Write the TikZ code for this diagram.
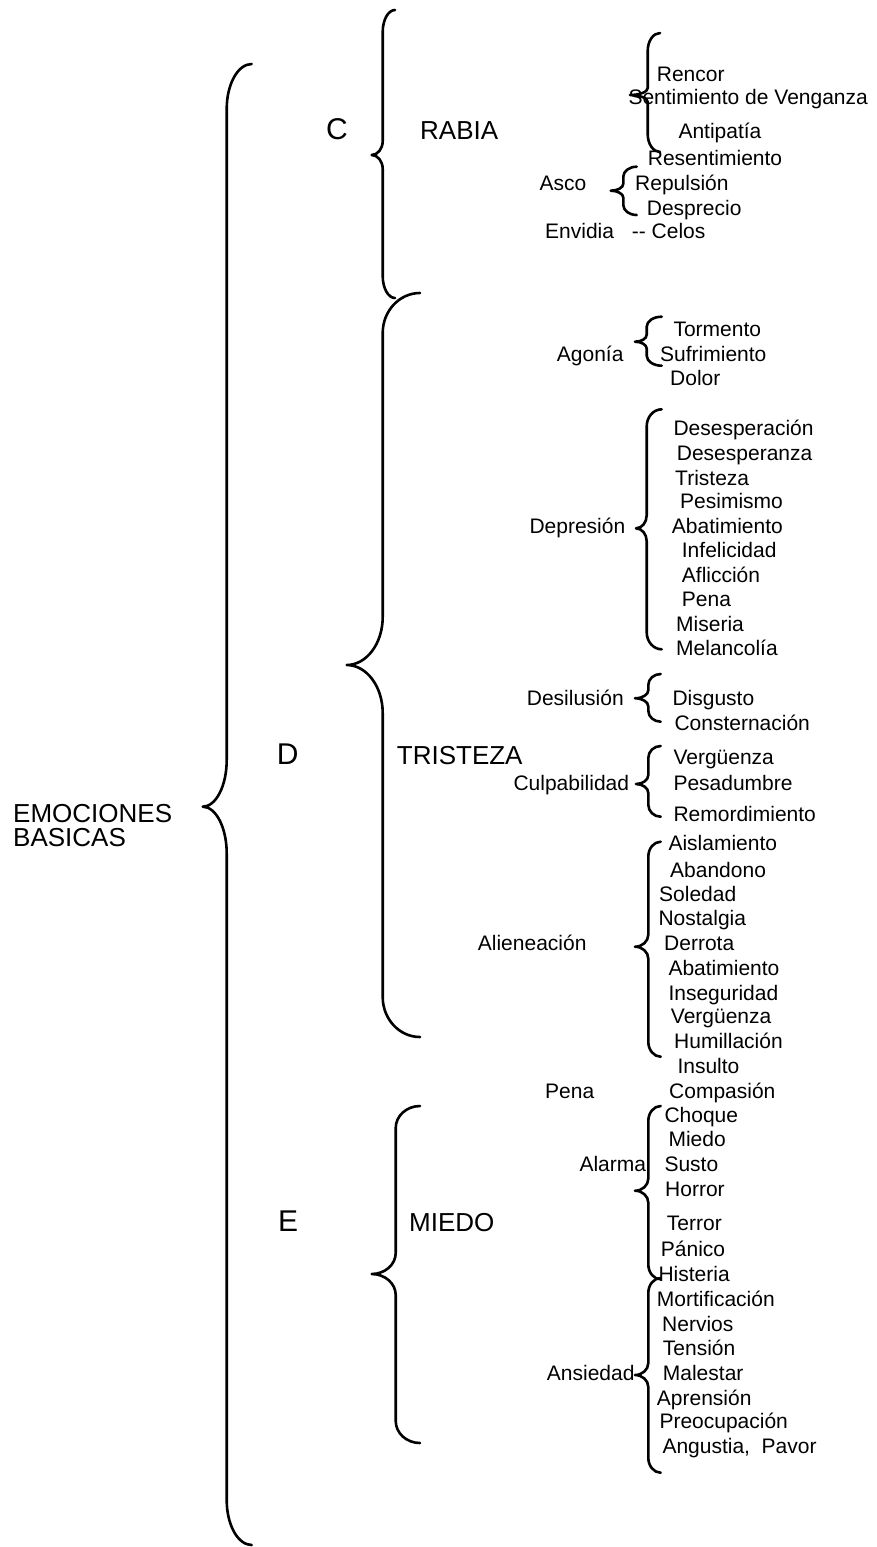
\documentclass[tikz,border=0pt]{standalone}
\usepackage{fontspec}
\setmainfont{Liberation Sans}
\tikzset{
  sm/.style={font=\fontsize{21}{24}\selectfont, anchor=base west, inner sep=0pt},
  md/.style={font=\fontsize{26}{28}\selectfont, anchor=base west, inner sep=0pt},
  lg/.style={font=\fontsize{30}{32}\selectfont, anchor=base west, inner sep=0pt},
  br/.style={line width=2.6pt, line cap=round, line join=round}
}
% xl xe xc yt h yc hc yb
\newcommand\drawbrace[8]{%
  \draw[br] (#2,#4) .. controls ({#2-0.552*(#2-#1)},#4) and (#1,{#4+#5-0.552*#5}) .. (#1,{#4+#5})
   -- (#1,{#6-#7}) .. controls (#1,{#6-#7+0.552*#7}) and ({#3+0.552*(#1-#3)},#6) .. (#3,#6)
   .. controls ({#3+0.552*(#1-#3)},#6) and (#1,{#6+#7-0.552*#7}) .. (#1,{#6+#7})
   -- (#1,{#8-#5}) .. controls (#1,{#8-#5+0.552*#5}) and ({#2-0.552*(#2-#1)},#8) .. (#2,#8);
}
\begin{document}
\begin{tikzpicture}[x=1pt,y=-1pt]
\useasboundingbox (0,0) rectangle (876,1547);
% braces
\drawbrace{226.7}{251.7}{202.7}{64}{45}{806.7}{46.7}{1545}
\drawbrace{382.7}{395}{371.7}{10}{22}{155}{14}{298}
\drawbrace{382.7}{420}{346.7}{293}{40}{665}{48}{1037}
\drawbrace{395.7}{420}{371.7}{1106}{22}{1274}{21}{1443}
\drawbrace{647.7}{660}{630}{33}{18}{95}{7}{152}
\drawbrace{623.3}{636.7}{610.7}{166.7}{10}{190.7}{7}{215}
\drawbrace{646.7}{661.7}{635}{316.7}{10}{341.7}{7}{365.7}
\drawbrace{646.7}{661.7}{636}{409.3}{17}{528.3}{13}{649.3}
\drawbrace{648.3}{660.7}{635}{674}{11}{698.3}{8}{721.7}
\drawbrace{648.3}{660.7}{636}{746}{12}{784}{9}{816.7}
\drawbrace{648.3}{660.7}{635}{841.7}{15}{946.7}{12}{1056.7}
\drawbrace{648.3}{660.7}{635}{1106}{15}{1190.7}{12}{1279.3}
\drawbrace{648.3}{660.7}{635}{1278}{15}{1375}{12}{1472.7}
% main labels
\node[md] (emo1) at (13,822) {EMOCIONES};
\node[md] (emo2) at (13,846) {BASICAS};
\node[lg] (c) at (326,139) {C};
\node[md] (rabia) at (420,139) {RABIA};
\node[lg] (d) at (276.7,764) {D};
\node[md] (tristeza) at (396.7,764) {TRISTEZA};
\node[lg] (e) at (278,1231) {E};
\node[md] (miedo) at (409,1231) {MIEDO};
% RABIA
\node[sm] (rencor) at (656.7,81) {Rencor};
\node[sm] (sentim) at (628.3,104) {Sentimiento de Venganza};
\node[sm] (antip) at (678.3,138) {Antipatía};
\node[sm] (resent) at (647.7,165) {Resentimiento};
\node[sm] (asco) at (539.3,190.7) {Asco};
\node[sm] (repul) at (635,190.7) {Repulsión};
\node[sm] (despr) at (646.7,215) {Desprecio};
\node[sm] (envid) at (545,238.3) {Envidia};
\node[sm] (celos) at (631.7,238.3) {{-}{-} Celos};
% TRISTEZA
\node[sm] (torm) at (673.3,336.7) {Tormento};
\node[sm] (agon) at (556.7,361.7) {Agonía};
\node[sm] (sufr) at (660,361.7) {Sufrimiento};
\node[sm] (dolor) at (670,385.7) {Dolor};
\node[sm] (dsp1) at (673.3,435) {Desesperación};
\node[sm] (dsp2) at (676.7,460) {Desesperanza};
\node[sm] (trist) at (675,485) {Tristeza};
\node[sm] (pesim) at (680,508.3) {Pesimismo};
\node[sm] (abat1) at (671.7,533.3) {Abatimiento};
\node[sm] (infel) at (681.7,557.3) {Infelicidad};
\node[sm] (aflic) at (681.7,582.7) {Aflicción};
\node[sm] (pena1) at (681.7,606.7) {Pena};
\node[sm] (miser) at (676,631.7) {Miseria};
\node[sm] (melan) at (676,655) {Melancolía};
\node[sm] (depr) at (529.3,533.3) {Depresión};
\node[sm] (desil) at (526.7,705) {Desilusión};
\node[sm] (disg) at (672.3,705) {Disgusto};
\node[sm] (consr) at (674.3,730) {Consternación};
\node[sm] (culpa) at (513.3,790.7) {Culpabilidad};
\node[sm] (verg1) at (673.3,764) {Vergüenza};
\node[sm] (pesad) at (673.3,790.7) {Pesadumbre};
\node[sm] (remor) at (673.3,821.7) {Remordimiento};
\node[sm] (alien) at (477.7,950.7) {Alieneación};
\node[sm] (aisl) at (668.3,850.7) {Aislamiento};
\node[sm] (aband) at (670,877.3) {Abandono};
\node[sm] (soled) at (659,901.7) {Soledad};
\node[sm] (nostal) at (658.3,925.7) {Nostalgia};
\node[sm] (derr) at (664,950.7) {Derrota};
\node[sm] (abat2) at (668.3,975) {Abatimiento};
\node[sm] (inseg) at (668.3,1000) {Inseguridad};
\node[sm] (verg2) at (670.7,1023.3) {Vergüenza};
\node[sm] (humil) at (674,1048.3) {Humillación};
\node[sm] (insul) at (677.3,1073.3) {Insulto};
\node[sm] (pena2) at (545,1098.3) {Pena};
\node[sm] (compa) at (669,1098.3) {Compasión};
% MIEDO
\node[sm] (choq) at (664.3,1122.7) {Choque};
\node[sm] (miedo2) at (668.3,1146.7) {Miedo};
\node[sm] (susto) at (664.3,1171.7) {Susto};
\node[sm] (alarma) at (579.3,1171.7) {Alarma};
\node[sm] (horror) at (665,1196) {Horror};
\node[sm] (terror) at (666.7,1230.7) {Terror};
\node[sm] (panico) at (660.7,1256.7) {Pánico};
\node[sm] (hist) at (658.3,1281.7) {Histeria};
\node[sm] (mortif) at (656.7,1306.7) {Mortificación};
\node[sm] (nerv) at (662,1331) {Nervios};
\node[sm] (tens) at (662.7,1355) {Tensión};
\node[sm] (males) at (662.7,1380) {Malestar};
\node[sm] (ansie) at (546.7,1380) {Ansiedad};
\node[sm] (apren) at (656.7,1405) {Aprensión};
\node[sm] (preoc) at (659.3,1428.3) {Preocupación};
\node[sm] (angus) at (662.3,1453.3) {Angustia,\ \ Pavor};
\end{tikzpicture}
\end{document}
